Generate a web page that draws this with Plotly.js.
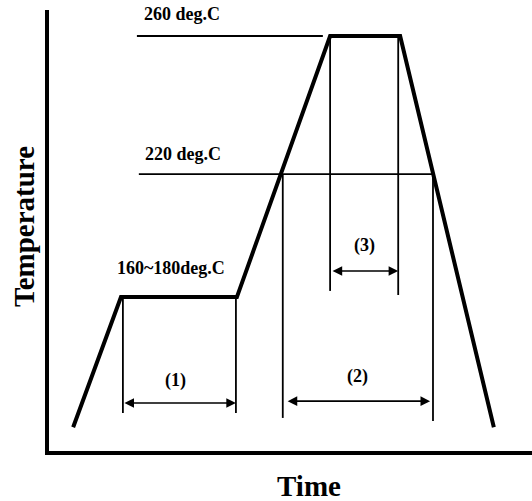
<!DOCTYPE html>
<html>
<head>
<meta charset="utf-8">
<script src="https://cdn.plot.ly/plotly-3.0.1.min.js"></script>
<style>html,body{margin:0;padding:0;background:#fff;}#chart{width:532px;height:501px;}</style>
</head>
<body>
<div id="chart"></div>
<script>
// Reflow profile (schematic units: time 0-100, temperature 0-100)
const timeProfile = [5.0, 14.9, 38.9, 58.2, 72.7, 92.1];
const tempProfile = [5.4, 34.9, 34.9, 94.1, 94.1, 5.4];

// Horizontal reference levels
const levelLineStart = [18.2, 18.6];
const levelLineEnd = [56.7, 79.5];
const levelValues = [94.1, 62.8];

// Vertical marker lines
const markX = [15.3, 38.7, 48.4, 79.5, 58.2, 72.3];
const markTop = [34.9, 34.9, 62.8, 62.8, 94.1, 94.1];
const markBottom = [8.6, 8.6, 7.5, 6.8, 36.3, 35.4];

// Interval arrows
const arrowStart = [15.3, 49.1, 58.4];
const arrowEnd = [38.7, 78.9, 72.3];
const arrowY = [10.9, 11.3, 40.8];
const arrowLabels = ['(1)', '(2)', '(3)'];
const arrowLabelX = [26.1, 63.8, 65.4];
const arrowLabelY = [16.1, 17.0, 46.7];

// Temperature level labels
const levelLabels = ['260 deg.C', '220 deg.C', '160~180deg.C'];
const levelLabelX = [19.3, 19.5, 13.7];
const levelLabelY = [99.1, 67.3, 41.5];

const FONT = '"Liberation Serif", "Times New Roman", Times, serif';

// Build thin guide line trace
const gx = [], gy = [];
for (let i = 0; i < levelValues.length; i++) {
  gx.push(levelLineStart[i], levelLineEnd[i], null);
  gy.push(levelValues[i], levelValues[i], null);
}
for (let i = 0; i < markX.length; i++) {
  gx.push(markX[i], markX[i], null);
  gy.push(markTop[i], markBottom[i], null);
}

const traces = [
  {
    x: gx, y: gy, mode: 'lines', type: 'scatter',
    line: {color: '#000', width: 1.8}, hoverinfo: 'skip', connectgaps: false
  },
  {
    x: timeProfile, y: tempProfile, mode: 'lines', type: 'scatter',
    line: {color: '#000', width: 4}, hoverinfo: 'skip'
  }
];

const annotations = [];
for (let i = 0; i < arrowStart.length; i++) {
  annotations.push({
    x: arrowEnd[i], y: arrowY[i], ax: arrowStart[i], ay: arrowY[i],
    xref: 'x', yref: 'y', axref: 'x', ayref: 'y',
    text: '', showarrow: true, arrowside: 'end+start',
    arrowhead: 2, arrowsize: 1.2, arrowwidth: 1.6, arrowcolor: '#000',
    standoff: 0, startstandoff: 0
  });
  annotations.push({
    x: arrowLabelX[i], y: arrowLabelY[i], xref: 'x', yref: 'y',
    text: arrowLabels[i], showarrow: false, xanchor: 'center', yanchor: 'middle',
    font: {family: FONT, size: 18, color: '#000', weight: 'bold'}
  });
}
for (let i = 0; i < levelLabels.length; i++) {
  annotations.push({
    x: levelLabelX[i], y: levelLabelY[i], xref: 'x', yref: 'y',
    text: levelLabels[i], showarrow: false, xanchor: 'left', yanchor: 'middle',
    font: {family: FONT, size: 18, color: '#000', weight: 'bold'}
  });
}
// Axis titles
annotations.push({
  x: 309, y: 486, xref: 'paper', yref: 'paper', text: 'Time', showarrow: false,
  font: {family: FONT, size: 29, color: '#000', weight: 'bold'}
});
annotations.push({
  x: 24, y: 227, xref: 'paper', yref: 'paper', text: 'Temperature', showarrow: false,
  textangle: -90,
  font: {family: FONT, size: 29, color: '#000', weight: 'bold'}
});

// convert pixel-placed titles to paper fractions
const W = 532, H = 501, M = {l: 49, r: 0, t: 10, b: 50};
const pw = W - M.l - M.r, ph = H - M.t - M.b;
for (const a of annotations) {
  if (a.xref === 'paper') {
    a.x = (a.x - M.l) / pw;
    a.y = (H - M.b - a.y) / ph;
    a.xanchor = 'center'; a.yanchor = 'middle';
  }
}

const layout = {
  width: W, height: H,
  margin: M,
  paper_bgcolor: '#fff', plot_bgcolor: '#fff',
  showlegend: false,
  xaxis: {range: [0, 100], showgrid: false, zeroline: false, showticklabels: false,
          ticks: '', showline: true, linecolor: '#000', linewidth: 4, fixedrange: true},
  yaxis: {range: [0, 100], showgrid: false, zeroline: false, showticklabels: false,
          ticks: '', showline: true, linecolor: '#000', linewidth: 4, fixedrange: true},
  annotations: annotations
};

Plotly.newPlot('chart', traces, layout, {displayModeBar: false, staticPlot: true});
</script>
</body>
</html>
